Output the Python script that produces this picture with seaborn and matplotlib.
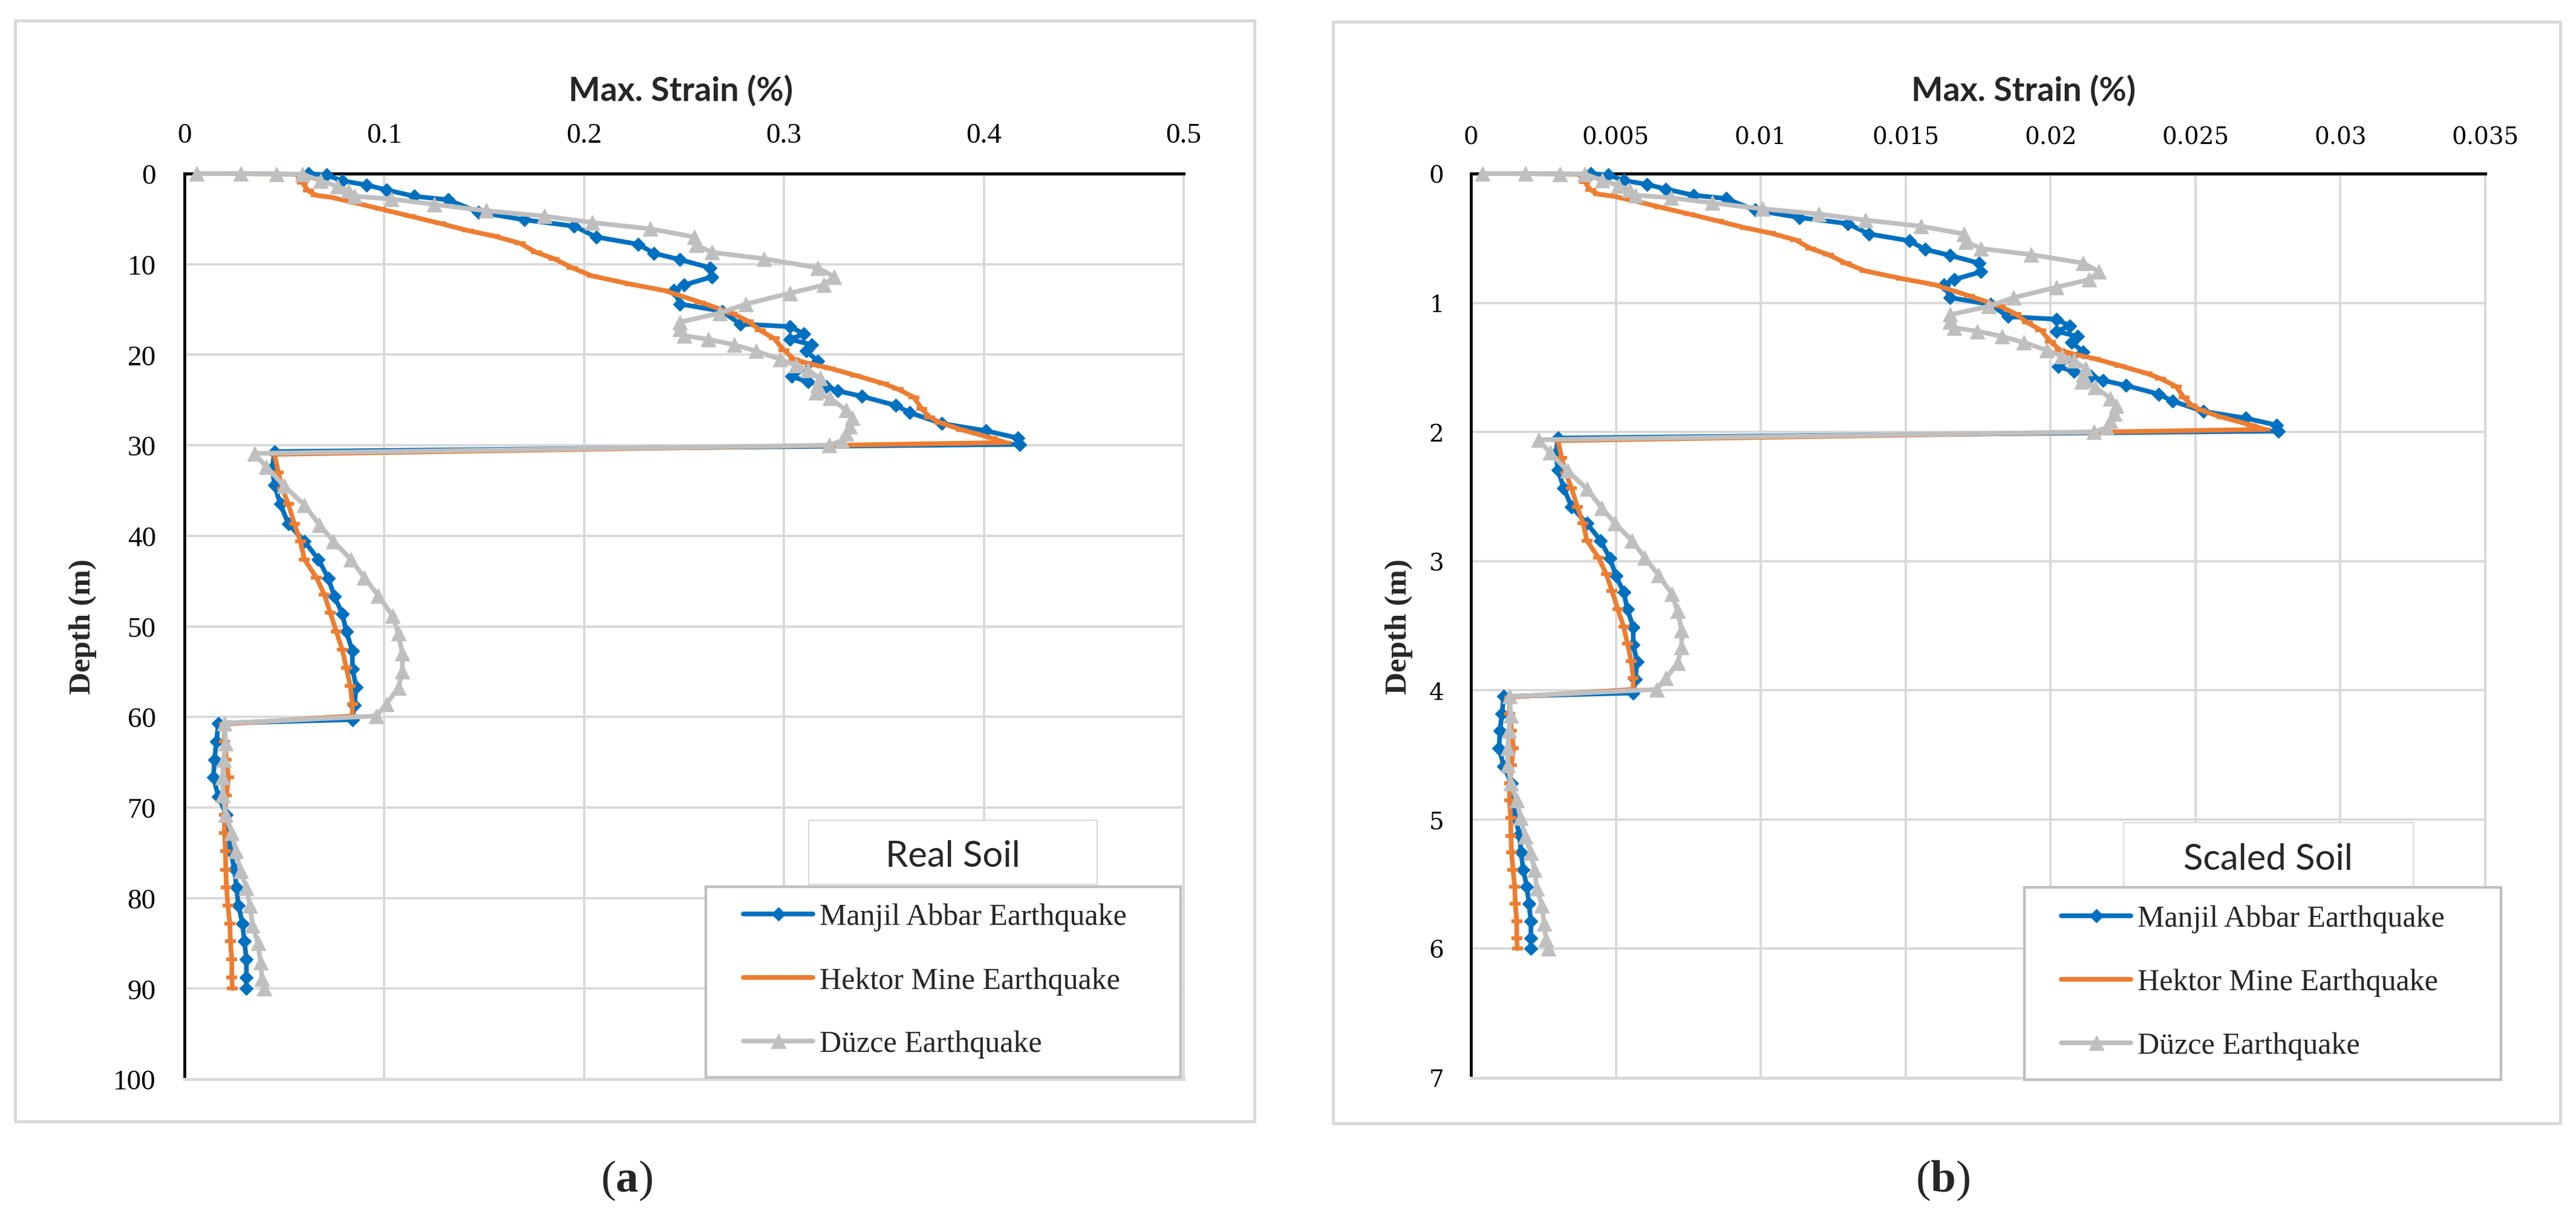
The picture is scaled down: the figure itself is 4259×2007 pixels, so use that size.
import numpy as np
import pandas as pd
import matplotlib
matplotlib.use("Agg")
import matplotlib.pyplot as plt
import seaborn as sns
from matplotlib.patches import Rectangle
from matplotlib.lines import Line2D

# ---------------- DATA ----------------
series_names = ["Manjil Abbar Earthquake", "Hektor Mine Earthquake", "Düzce Earthquake"]

# Panel (a) Real Soil : depth (m), max strain (%)
a_manjil_depth = [0.0, 0.15, 0.8, 1.25, 1.8, 2.5, 2.9, 4.25, 5.1, 5.8, 7.0, 7.8, 8.8, 9.5, 10.4, 11.4, 12.3, 12.9,
                  14.4, 15.2, 16.6, 16.9, 17.7, 18.3, 18.9, 19.6, 20.7, 22.4, 23.0, 23.5, 24.0, 24.6, 25.6, 26.4,
                  27.6, 28.4, 29.2, 29.9, 30.7, 32.5, 34.4, 36.5, 38.7, 40.6, 42.6, 44.7, 46.7, 48.6, 50.6, 52.7,
                  54.7, 56.7, 58.7, 60.3, 60.7, 62.7, 64.7, 66.7, 68.8, 70.8, 72.8, 74.8, 76.8, 78.8, 80.8, 82.8,
                  84.8, 86.8, 88.8, 90.0]
a_manjil_strain = [0.062, 0.071, 0.079, 0.091, 0.101, 0.115, 0.132, 0.147, 0.170, 0.195, 0.206, 0.227, 0.235, 0.248,
                   0.263, 0.264, 0.250, 0.245, 0.248, 0.269, 0.278, 0.303, 0.310, 0.303, 0.314, 0.311, 0.317, 0.304,
                   0.312, 0.321, 0.327, 0.339, 0.356, 0.363, 0.379, 0.401, 0.417, 0.418, 0.045, 0.044, 0.045, 0.048,
                   0.052, 0.060, 0.067, 0.072, 0.075, 0.079, 0.081, 0.084, 0.084, 0.086, 0.085, 0.084, 0.017, 0.016,
                   0.015, 0.0145, 0.017, 0.021, 0.022, 0.023, 0.025, 0.026, 0.027, 0.029, 0.030, 0.031, 0.031, 0.031]

a_hektor_depth = [0.0, 0.05, 0.1, 1.0, 1.9, 2.4, 2.6, 3.2, 3.9, 4.7, 5.5, 6.3, 6.9, 7.7, 8.7, 9.4, 10.4, 11.3, 12.2,
                  12.9, 14.2, 15.4, 16.3, 17.3, 18.2, 19.5, 20.5, 20.9, 21.5, 22.3, 23.2, 23.8, 24.7, 26.0, 26.9,
                  27.5, 28.3, 29.2, 29.7, 31.0, 33.0, 34.8, 36.5, 38.7, 40.6, 42.6, 44.6, 46.5, 48.5, 50.6, 52.6,
                  54.6, 56.6, 58.6, 59.9, 60.8, 62.7, 64.7, 66.7, 68.7, 70.8, 72.8, 74.8, 76.9, 78.8, 80.8, 82.8,
                  84.8, 86.8, 88.8, 90.0]
a_hektor_strain = [0.024, 0.052, 0.056, 0.059, 0.062, 0.066, 0.073, 0.085, 0.098, 0.113, 0.128, 0.142, 0.155, 0.168,
                   0.176, 0.185, 0.194, 0.204, 0.223, 0.240, 0.258, 0.274, 0.282, 0.288, 0.295, 0.300, 0.305, 0.311,
                   0.323, 0.336, 0.350, 0.357, 0.365, 0.369, 0.373, 0.378, 0.389, 0.404, 0.411, 0.045, 0.047, 0.049,
                   0.052, 0.055, 0.058, 0.060, 0.066, 0.070, 0.073, 0.076, 0.079, 0.081, 0.083, 0.084, 0.084, 0.020,
                   0.020, 0.021, 0.022, 0.021, 0.020, 0.020, 0.0205, 0.0207, 0.021, 0.0217, 0.0227, 0.023, 0.0237,
                   0.0237, 0.024]

a_duzce_depth = [0.0, 0.0, 0.05, 0.05, 0.8, 1.4, 1.9, 2.5, 2.8, 3.4, 4.1, 4.7, 5.4, 6.1, 7.0, 7.9, 8.7, 9.4, 10.4,
                 11.4, 12.3, 13.2, 14.4, 15.4, 16.4, 17.2, 17.9, 18.3, 18.9, 19.6, 20.5, 21.2, 21.7, 22.6, 23.4,
                 24.2, 24.8, 26.1, 27.0, 27.9, 28.7, 29.5, 30.0, 30.9, 32.4, 34.5, 36.6, 38.8, 40.6, 42.6, 44.6,
                 46.6, 48.8, 50.8, 53.0, 55.0, 56.8, 58.6, 59.9, 60.7, 62.9, 64.7, 66.7, 68.7, 70.8, 72.8, 74.8,
                 77.0, 78.9, 80.8, 83.0, 85.0, 87.1, 88.9, 90.0]
a_duzce_strain = [0.006, 0.028, 0.046, 0.059, 0.068, 0.0765, 0.082, 0.085, 0.1035, 0.125, 0.151, 0.180, 0.204, 0.233,
                  0.255, 0.256, 0.264, 0.290, 0.317, 0.325, 0.320, 0.303, 0.281, 0.268, 0.248, 0.248, 0.250, 0.262,
                  0.275, 0.286, 0.298, 0.306, 0.312, 0.318, 0.317, 0.316, 0.323, 0.331, 0.334, 0.333, 0.331, 0.329,
                  0.3225, 0.035, 0.041, 0.050, 0.060, 0.0676, 0.0746, 0.0832, 0.090, 0.097, 0.104, 0.107, 0.109,
                  0.109, 0.107, 0.101, 0.096, 0.020, 0.0206, 0.0197, 0.019, 0.0192, 0.0207, 0.0237, 0.0257, 0.028,
                  0.031, 0.0328, 0.034, 0.0368, 0.038, 0.0388, 0.040]

# Panel (b) Scaled Soil : depth (m), max strain (%)
b_manjil_depth = [0.0, 0.01, 0.053, 0.083, 0.12, 0.167, 0.193, 0.283, 0.34, 0.387, 0.467, 0.52, 0.587, 0.633, 0.693,
                  0.76, 0.82, 0.86, 0.96, 1.013, 1.107, 1.127, 1.18, 1.22, 1.26, 1.307, 1.38, 1.493, 1.533, 1.567,
                  1.6, 1.64, 1.707, 1.76, 1.84, 1.893, 1.947, 1.993, 2.047, 2.167, 2.293, 2.433, 2.58, 2.707, 2.84,
                  2.98, 3.113, 3.24, 3.373, 3.513, 3.647, 3.78, 3.913, 4.02, 4.047, 4.18, 4.313, 4.447, 4.587, 4.72,
                  4.853, 4.987, 5.12, 5.253, 5.387, 5.52, 5.653, 5.787, 5.92, 6.0]
b_manjil_strain = [0.00413, 0.00473, 0.00527, 0.00607, 0.00673, 0.00767, 0.0088, 0.0098, 0.01133, 0.013, 0.01373,
                   0.01513, 0.01567, 0.01653, 0.01753, 0.0176, 0.01667, 0.01633, 0.01653, 0.01793, 0.01853, 0.0202,
                   0.02067, 0.0202, 0.02093, 0.02073, 0.02113, 0.02027, 0.0208, 0.0214, 0.0218, 0.0226, 0.02373,
                   0.0242, 0.02527, 0.02673, 0.0278, 0.02787, 0.003, 0.00293, 0.003, 0.0032, 0.00347, 0.004, 0.00447,
                   0.0048, 0.005, 0.00527, 0.0054, 0.0056, 0.0056, 0.00573, 0.00567, 0.0056, 0.00113, 0.00107, 0.001,
                   0.00097, 0.00113, 0.0014, 0.00147, 0.00153, 0.00167, 0.00173, 0.0018, 0.00193, 0.002, 0.00207,
                   0.00207, 0.00207]

b_hektor_depth = [0.0, 0.003, 0.007, 0.067, 0.127, 0.16, 0.173, 0.213, 0.26, 0.313, 0.367, 0.42, 0.46, 0.513, 0.58,
                  0.627, 0.693, 0.753, 0.813, 0.86, 0.947, 1.027, 1.087, 1.153, 1.213, 1.3, 1.367, 1.393, 1.433,
                  1.487, 1.547, 1.587, 1.647, 1.733, 1.793, 1.833, 1.887, 1.947, 1.98, 2.067, 2.2, 2.32, 2.433, 2.58,
                  2.707, 2.84, 2.973, 3.1, 3.233, 3.373, 3.507, 3.64, 3.773, 3.907, 3.993, 4.053, 4.18, 4.313, 4.447,
                  4.58, 4.72, 4.853, 4.987, 5.127, 5.253, 5.387, 5.52, 5.653, 5.787, 5.92, 6.0]
b_hektor_strain = [0.0016, 0.00347, 0.00373, 0.00393, 0.00413, 0.0044, 0.00487, 0.00567, 0.00653, 0.00753, 0.00853,
                   0.00947, 0.01033, 0.0112, 0.01173, 0.01233, 0.01293, 0.0136, 0.01487, 0.016, 0.0172, 0.01827,
                   0.0188, 0.0192, 0.01967, 0.02, 0.02033, 0.02073, 0.02153, 0.0224, 0.02333, 0.0238, 0.02433, 0.0246,
                   0.02487, 0.0252, 0.02593, 0.02693, 0.0274, 0.003, 0.00313, 0.00327, 0.00347, 0.00367, 0.00387,
                   0.004, 0.0044, 0.00467, 0.00487, 0.00507, 0.00527, 0.0054, 0.00553, 0.0056, 0.0056, 0.00133,
                   0.00133, 0.0014, 0.00147, 0.0014, 0.00133, 0.00133, 0.00137, 0.00138, 0.0014, 0.00145, 0.00151,
                   0.00153, 0.00158, 0.00158, 0.0016]

b_duzce_depth = [0.0, 0.0, 0.003, 0.003, 0.053, 0.093, 0.127, 0.167, 0.187, 0.227, 0.273, 0.313, 0.36, 0.407, 0.467,
                 0.527, 0.58, 0.627, 0.693, 0.76, 0.82, 0.88, 0.96, 1.027, 1.093, 1.147, 1.193, 1.22, 1.26, 1.307,
                 1.367, 1.413, 1.447, 1.507, 1.56, 1.613, 1.653, 1.74, 1.8, 1.86, 1.913, 1.967, 2.0, 2.06, 2.16, 2.3,
                 2.44, 2.587, 2.707, 2.84, 2.973, 3.107, 3.253, 3.387, 3.533, 3.667, 3.787, 3.907, 3.993, 4.047,
                 4.193, 4.313, 4.447, 4.58, 4.72, 4.853, 4.987, 5.133, 5.26, 5.387, 5.533, 5.667, 5.807, 5.927, 6.0]
b_duzce_strain = [0.0004, 0.00187, 0.00307, 0.00393, 0.00453, 0.0051, 0.00547, 0.00567, 0.0069, 0.00833, 0.01007,
                  0.012, 0.0136, 0.01553, 0.017, 0.01707, 0.0176, 0.01933, 0.02113, 0.02167, 0.02133, 0.0202,
                  0.01873, 0.01787, 0.01653, 0.01653, 0.01667, 0.01747, 0.01833, 0.01907, 0.01987, 0.0204, 0.0208,
                  0.0212, 0.02113, 0.02107, 0.02153, 0.02207, 0.02227, 0.0222, 0.02207, 0.02193, 0.0215, 0.00233,
                  0.00273, 0.00333, 0.004, 0.00451, 0.00497, 0.00555, 0.006, 0.00647, 0.00693, 0.00713, 0.00727,
                  0.00727, 0.00713, 0.00673, 0.0064, 0.00133, 0.00137, 0.00131, 0.00127, 0.00128, 0.00138, 0.00158,
                  0.00171, 0.00187, 0.00207, 0.00219, 0.00227, 0.00245, 0.00253, 0.00259, 0.00267]

a_xticks = [0, 0.1, 0.2, 0.3, 0.4, 0.5]
a_xticklabels = ["0", "0.1", "0.2", "0.3", "0.4", "0.5"]
a_yticks = [0, 10, 20, 30, 40, 50, 60, 70, 80, 90, 100]
b_xticks = [0, 0.005, 0.01, 0.015, 0.02, 0.025, 0.03, 0.035]
b_xticklabels = ["0", "0.005", "0.01", "0.015", "0.02", "0.025", "0.03", "0.035"]
b_yticks = [0, 1, 2, 3, 4, 5, 6, 7]

x_title = "Max. Strain (%)"
y_title = "Depth (m)"

# ---------------- STYLE ----------------
sns.set_theme(style="white")
plt.rcParams['font.family'] = ['Liberation Serif', 'DejaVu Serif']
plt.rcParams['mathtext.fontset'] = 'custom'
plt.rcParams['mathtext.rm'] = 'Liberation Serif'
plt.rcParams['mathtext.bf'] = 'Liberation Serif:bold'

W, H, DPI = 4259, 2008, 100
fig = plt.figure(figsize=(W / DPI, H / DPI), dpi=DPI)
fig.patch.set_facecolor("white")


def fx(px):
    return px / W


def fy(py):
    return 1 - py / H


def frect(l, t, r, b, **kw):
    rect = Rectangle((fx(l), fy(b)), fx(r) - fx(l), fy(t) - fy(b), transform=fig.transFigure, **kw)
    fig.add_artist(rect)
    return rect


colors = ["#0070C0", "#ED7D31", "#BFBFBF"]
LW = 5.6
styles = [
    dict(marker="D", markersize=11, markeredgewidth=1.0),
    dict(marker="_", markersize=13, markeredgewidth=4.5),
    dict(marker="^", markersize=17, markeredgewidth=1.0),
]

panels = [
    dict(box=(305, 288, 1957, 1785), border=(25, 35, 2074, 1855),
         data=[(a_manjil_strain, a_manjil_depth), (a_hektor_strain, a_hektor_depth), (a_duzce_strain, a_duzce_depth)],
         xmax=0.5, ymax=100, xticks=a_xticks, xlabels=a_xticklabels, yticks=a_yticks,
         tickfont="Liberation Serif", ticksize=34, xpad=30, ypad=34,
         title_x=1125, ylabel_x=137, leg_box=(1167, 1467, 1952, 1782), leg_anchor=(1229, 1494),
         soil_box=(1337, 1357, 1814, 1463), soil_text="Real Soil", soil_center=(1575, 1416),
         tag="a", tag_x=1036),
    dict(box=(2432, 288, 4109, 1783), border=(2204, 37, 4233, 1858),
         data=[(b_manjil_strain, b_manjil_depth), (b_hektor_strain, b_hektor_depth), (b_duzce_strain, b_duzce_depth)],
         xmax=0.035, ymax=7, xticks=b_xticks, xlabels=b_xticklabels, yticks=b_yticks,
         tickfont="DejaVu Serif", ticksize=28, xpad=30, ypad=32,
         title_x=3345, ylabel_x=2313, leg_box=(3347, 1468, 4135, 1786), leg_anchor=(3408, 1497),
         soil_box=(3511, 1361, 3990, 1468), soil_text="Scaled Soil", soil_center=(3750, 1421),
         tag="b", tag_x=3212),
]

for p in panels:
    l, t, r, b = p["box"]
    ax = fig.add_axes([fx(l), fy(b), fx(r) - fx(l), fy(t) - fy(b)])
    ax.set_facecolor("white")

    for i, ((xs, ys), col, st) in enumerate(zip(p["data"], colors, styles)):
        sns.lineplot(x=xs, y=ys, sort=False, estimator=None, ax=ax, color=col, linewidth=LW,
                     markeredgecolor=col, markerfacecolor=col, clip_on=False, zorder=5 + i,
                     legend=False, **st)

    ax.set_xlim(0, p["xmax"])
    ax.set_ylim(p["ymax"], 0)
    ax.xaxis.tick_top()
    ax.set_xticks(p["xticks"])
    ax.set_xticklabels(p["xlabels"], fontfamily=p["tickfont"], fontsize=p["ticksize"])
    ax.set_yticks(p["yticks"])
    ax.set_yticklabels([str(v) for v in p["yticks"]], fontfamily=p["tickfont"], fontsize=p["ticksize"])
    ax.tick_params(axis="x", length=0, pad=p["xpad"], colors="black")
    ax.tick_params(axis="y", length=0, pad=p["ypad"], colors="black")
    ax.set_xlabel("")
    ax.set_ylabel("")
    ax.grid(True, color="#D9D9D9", linewidth=2.8)
    ax.set_axisbelow(True)
    ax.spines["top"].set_color("black")
    ax.spines["top"].set_linewidth(3.6)
    ax.spines["left"].set_color("black")
    ax.spines["left"].set_linewidth(3.4)
    ax.spines["bottom"].set_color("#D9D9D9")
    ax.spines["bottom"].set_linewidth(3.6)
    ax.spines["right"].set_color("#D9D9D9")
    ax.spines["right"].set_linewidth(2.8)
    for s in ax.spines.values():
        s.set_visible(True)

    # outer chart border
    bl, bt, br, bb = p["border"]
    frect(bl, bt, br, bb, fill=False, edgecolor="#D9D9D9", linewidth=3.6, zorder=1)

    # titles
    fig.text(fx(p["title_x"]), fy(150), x_title, ha="center", va="center",
             fontfamily=["Lato", "DejaVu Sans"], fontweight="bold", fontsize=40)
    fig.text(fx(p["ylabel_x"]), fy((t + b) / 2), y_title, ha="center", va="center", rotation=90,
             fontfamily="Liberation Serif", fontweight="bold", fontsize=37)

    # soil label box
    sl, stp, sr, sb = p["soil_box"]
    frect(sl, stp, sr, sb, facecolor="white", edgecolor="#D9D9D9", linewidth=1.6, zorder=2)
    fig.text(fx(p["soil_center"][0]), fy(p["soil_center"][1]), p["soil_text"], ha="center", va="center",
             fontfamily=["Lato", "DejaVu Sans"], fontsize=43, zorder=3)

    # legend box + legend
    ll, lt, lr, lb = p["leg_box"]
    frect(ll, lt, lr, lb, facecolor="white", edgecolor="#BFBFBF", linewidth=3.2, zorder=2)
    handles = [Line2D([], [], color=c, linewidth=LW, markeredgecolor=c, markerfacecolor=c, **st)
               for c, st in zip(colors, styles)]
    fig.legend(handles, series_names, loc="upper left",
               bbox_to_anchor=(fx(p["leg_anchor"][0]), fy(p["leg_anchor"][1])),
               bbox_transform=fig.transFigure, frameon=False, borderpad=0, borderaxespad=0,
               handlelength=2.3, handletextpad=0.22, labelspacing=1.17, numpoints=1,
               prop=dict(family="Liberation Serif", size=36))

    # sub-figure tag
    fig.text(fx(p["tag_x"]), fy(1952), "($\\mathbf{" + p["tag"] + "}$)", ha="center", va="center",
             fontfamily="Liberation Serif", fontsize=54)

fig.savefig("out.png", dpi=DPI, facecolor="white")
